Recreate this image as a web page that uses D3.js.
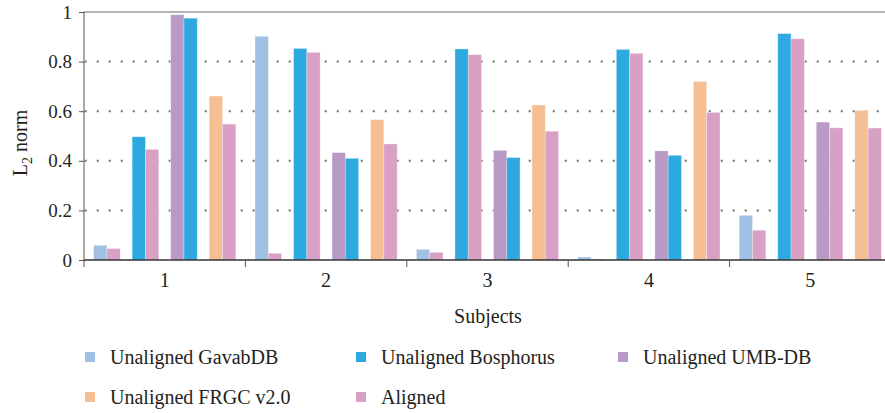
<!DOCTYPE html>
<html>
<head>
<meta charset="utf-8">
<script src="https://cdnjs.cloudflare.com/ajax/libs/d3/7.8.5/d3.min.js"></script>
<style>
  body { margin: 0; background: #fff; }
  text { font-family: "Liberation Serif", "DejaVu Serif", serif; fill: #231f20; }
</style>
</head>
<body>
<div id="chart"></div>
<script>

// values, one array per bar slot inside each subject
const subjects = ["1", "2", "3", "4", "5"];
const gavab            = [0.059, 0.902, 0.043, 0.012, 0.180];
const gavabAligned     = [0.046, 0.027, 0.031, 0.004, 0.120];
const bosphorus        = [0.497, 0.853, 0.851, 0.849, 0.913];
const bosphorusAligned = [0.446, 0.837, 0.828, 0.833, 0.892];
const umb              = [0.989, 0.433, 0.442, 0.440, 0.556];
const umbPair          = [0.975, 0.410, 0.413, 0.422, 0.533];
const frgc             = [0.661, 0.566, 0.625, 0.720, 0.603];
const frgcAligned      = [0.548, 0.468, 0.519, 0.595, 0.532];
// the 6th bar is drawn in Bosphorus colour for subjects 1-4, Aligned for 5
const umbPairSeries = ["Unaligned Bosphorus", "Unaligned Bosphorus", "Unaligned Bosphorus", "Unaligned Bosphorus", "Aligned"];

const seriesNames = ["Unaligned GavabDB", "Unaligned Bosphorus", "Unaligned UMB-DB", "Unaligned FRGC v2.0", "Aligned"];
const yTicks = [0, 0.2, 0.4, 0.6, 0.8, 1];

const colors = {
  "Unaligned GavabDB": "#a0c1e3",
  "Unaligned Bosphorus": "#2ea9df",
  "Unaligned UMB-DB": "#b99ac7",
  "Unaligned FRGC v2.0": "#f5bf93",
  "Aligned": "#d9a0c6"
};

const width = 885, height = 413;
const plotLeft = 84, plotRight = 891, plotTop = 12, plotBottom = 260;

const svg = d3.select("#chart").append("svg")
  .attr("width", width)
  .attr("height", height);

const x = d3.scaleBand().domain(subjects).range([plotLeft, plotRight]);
const pair = d3.scaleBand().domain([0, 1, 2, 3]).range([0, x.bandwidth()])
  .paddingInner(0.31).paddingOuter(0.25);
const slot = d3.scaleBand().domain([0, 1]).range([0, pair.bandwidth()]);
const y = d3.scaleLinear().domain([0, 1]).range([plotBottom, plotTop]);

// build bar table
const bars = [];
subjects.forEach((s, i) => {
  const rows = [
    [0, 0, gavab[i], "Unaligned GavabDB"],
    [0, 1, gavabAligned[i], "Aligned"],
    [1, 0, bosphorus[i], "Unaligned Bosphorus"],
    [1, 1, bosphorusAligned[i], "Aligned"],
    [2, 0, umb[i], "Unaligned UMB-DB"],
    [2, 1, umbPair[i], umbPairSeries[i]],
    [3, 0, frgc[i], "Unaligned FRGC v2.0"],
    [3, 1, frgcAligned[i], "Aligned"]
  ];
  rows.forEach(r => bars.push({subject: s, p: r[0], k: r[1], value: r[2], series: r[3]}));
});

// gridlines (dotted) and top line
svg.append("g").selectAll("line")
  .data(yTicks.filter(t => t > 0 && t < 1))
  .enter().append("line")
  .attr("x1", plotLeft).attr("x2", width)
  .attr("y1", d => y(d)).attr("y2", d => y(d))
  .style("stroke", "#6d6d6d")
  .style("stroke-width", 2)
  .style("stroke-dasharray", "2,10")
  .style("stroke-dashoffset", -0.7);

svg.append("line")
  .attr("x1", plotLeft).attr("x2", width)
  .attr("y1", y(1)).attr("y2", y(1))
  .style("stroke", "#9a9a9a")
  .style("stroke-width", 1.5);

// bars
svg.append("g").selectAll("rect")
  .data(bars)
  .enter().append("rect")
  .attr("x", d => x(d.subject) + pair(d.p) + slot(d.k))
  .attr("width", slot.bandwidth())
  .attr("y", d => y(d.value))
  .attr("height", d => y(0) - y(d.value))
  .style("fill", d => colors[d.series])
  .style("stroke", "#fff")
  .style("stroke-opacity", 0.35)
  .style("stroke-width", 0.8);

// y axis
const yAxis = svg.append("g")
  .attr("transform", "translate(" + plotLeft + ",0)")
  .call(d3.axisLeft(y).tickValues(yTicks).tickFormat(d => d === 0 || d === 1 ? d : d3.format(".1f")(d)).tickSize(5).tickPadding(7));
yAxis.select(".domain").attr("d", "M0," + plotTop + "V" + (plotBottom + 7)).style("stroke", "#555");
yAxis.selectAll(".tick line").style("stroke", "#555");
yAxis.selectAll(".tick text").style("font-size", "19px").style("font-family", "Liberation Serif").style("fill", "#231f20");

// x axis: line, boundary ticks, labels at group centres
svg.append("line")
  .attr("x1", plotLeft).attr("x2", width)
  .attr("y1", plotBottom).attr("y2", plotBottom)
  .style("stroke", "#333").style("stroke-width", 1.3);

svg.append("g").selectAll("line")
  .data(subjects.slice(1))
  .enter().append("line")
  .attr("x1", d => x(d)).attr("x2", d => x(d))
  .attr("y1", plotBottom).attr("y2", plotBottom + 7)
  .style("stroke", "#555");

svg.append("g").selectAll("text")
  .data(subjects)
  .enter().append("text")
  .attr("x", d => x(d) + x.bandwidth() / 2)
  .attr("y", 287)
  .attr("text-anchor", "middle")
  .style("font-size", "20px")
  .text(d => d);

svg.append("text")
  .attr("x", 488).attr("y", 323)
  .attr("text-anchor", "middle")
  .style("font-size", "20px")
  .text("Subjects");

const ylab = svg.append("text")
  .attr("transform", "translate(27,143) rotate(-90)")
  .attr("text-anchor", "middle")
  .style("font-size", "20px");
ylab.append("tspan").text("L");
ylab.append("tspan").attr("dy", 5).style("font-size", "14px").text("2");
ylab.append("tspan").attr("dy", -5).text(" norm");

// legend
const colX = [85, 356, 618];
const legend = svg.append("g").selectAll("g")
  .data(seriesNames)
  .enter().append("g")
  .attr("transform", (d, i) => "translate(" + colX[i % 3] + "," + (352 + Math.floor(i / 3) * 40) + ")");
legend.append("rect")
  .attr("width", 10).attr("height", 10)
  .style("fill", d => colors[d]);
legend.append("text")
  .attr("x", 25).attr("y", 11.5)
  .style("font-size", "20px")
  .text(d => d);

</script>
</body>
</html>
